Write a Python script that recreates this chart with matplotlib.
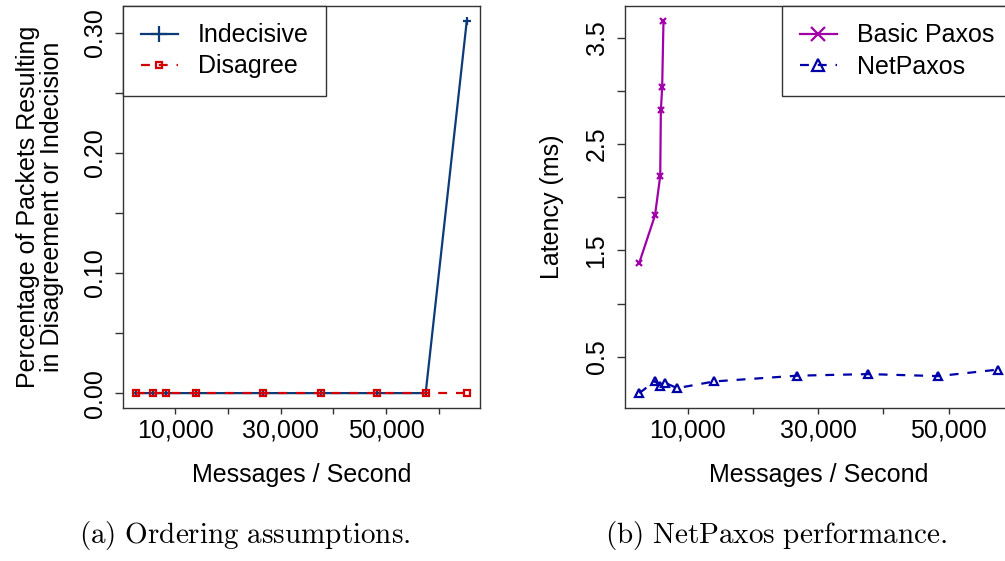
import matplotlib
matplotlib.use("Agg")
import matplotlib.pyplot as plt
from matplotlib.ticker import MultipleLocator, FuncFormatter

plt.rcParams["font.family"] = ["Liberation Sans", "DejaVu Sans"]
plt.rcParams["mathtext.fontset"] = "cm"

# (a) ordering assumptions
rate_a = [2600, 5760, 8300, 14000, 26600, 37600, 48300, 57500, 65300]
indecisive = [0, 0, 0, 0, 0, 0, 0, 0, 0.31]
disagree = [0, 0, 0, 0, 0, 0, 0, 0, 0]

# (b) NetPaxos performance
rate_basic = [2600, 5000, 5800, 5900, 6100, 6300]
lat_basic = [1.385, 1.83, 2.20, 2.82, 3.04, 3.66]
rate_net = [2600, 5000, 5800, 6500, 8400, 14100, 26800, 37700, 48400, 57500]
lat_net = [0.157, 0.270, 0.22, 0.255, 0.204, 0.267, 0.321, 0.336, 0.317, 0.378]

x_labels = {10000: "10,000", 30000: "30,000", 50000: "50,000"}

FS = 18
NAVY = "#0d3b78"
RED = "#d40000"
PURPLE = "#a000a8"
BLUE = "#0000a8"
EDGE = "#333333"


def r_limits(values):
    # R style 4% padding
    lo, hi = min(values), max(values)
    pad = 0.04 * (hi - lo)
    return lo - pad, hi + pad


def style_axes(ax):
    for sp in ax.spines.values():
        sp.set_linewidth(1.0)
        sp.set_color(EDGE)
    ax.tick_params(axis="x", direction="out", length=4.3, width=1.0, color=EDGE,
                   labelsize=FS, pad=3.5)
    ax.tick_params(axis="y", direction="out", length=5.8, width=1.0, color=EDGE,
                   labelsize=FS, pad=6, labelrotation=90)
    for lab in ax.get_yticklabels():
        lab.set_va("center")
    ax.xaxis.set_major_locator(MultipleLocator(10000))
    ax.xaxis.set_major_formatter(FuncFormatter(lambda v, p: x_labels.get(int(round(v)), "")))
    ax.set_xlabel("Messages / Second", fontsize=FS, labelpad=14.5)


def add_legend(ax, loc, anchor, marker_sizes):
    leg = ax.legend(loc=loc, bbox_to_anchor=anchor, borderaxespad=0,
                    fontsize=FS, fancybox=False, framealpha=1, edgecolor=EDGE,
                    handlelength=1.5, handletextpad=0.8, borderpad=0.7,
                    labelspacing=0.28)
    leg.get_frame().set_linewidth(1.0)
    for h, ms in zip(leg.legend_handles, marker_sizes):
        h.set_markersize(ms)
    return leg


fig = plt.figure(figsize=(10.05, 5.61), dpi=100)
W, H = 1005, 561
ax1 = fig.add_axes([123 / W, (H - 408) / H, (480 - 123) / W, (408 - 6) / H])
ax2 = fig.add_axes([625 / W, (H - 408) / H, (1012 - 625) / W, (408 - 6) / H])

# ---- left panel ----
ax1.plot(rate_a, indecisive, color=NAVY, lw=1.6, marker="+", ms=6, mew=1.6,
         label="Indecisive")
ax1.plot(rate_a, disagree, color=RED, lw=1.6, dashes=(4, 4), marker="s", ms=5,
         mfc="none", mew=1.6, label="Disagree")
ax1.set_xlim(*r_limits(rate_a))
ax1.set_ylim(*r_limits(indecisive + disagree))
ax1.yaxis.set_major_locator(MultipleLocator(0.05))
ax1.yaxis.set_major_formatter(FuncFormatter(
    lambda v, p: f"{v:.2f}" if abs(round(v * 100) % 10) == 0 else ""))
style_axes(ax1)
ax1.set_ylabel("Percentage of Packets Resulting\nin Disagreement or Indecision",
               fontsize=FS, linespacing=1.0)
ax1.yaxis.set_label_coords(-0.165, 0.5)
add_legend(ax1, "upper left", (0, 1), [12, 5])

# ---- right panel ----
ax2.plot(rate_basic, lat_basic, color=PURPLE, lw=1.6, marker="x", ms=5, mew=1.6,
         label="Basic Paxos")
ax2.plot(rate_net, lat_net, color=BLUE, lw=1.6, dashes=(4, 4), marker="^", ms=6,
         mfc="none", mew=1.6, label="NetPaxos")
ax2.set_xlim(*r_limits(rate_basic + rate_net))
ax2.set_ylim(*r_limits(lat_basic + lat_net))
ax2.yaxis.set_major_locator(MultipleLocator(0.5))
ax2.yaxis.set_major_formatter(FuncFormatter(
    lambda v, p: f"{v:.1f}" if round(v * 2) % 2 == 1 else ""))
style_axes(ax2)
ax2.set_ylabel("Latency (ms)", fontsize=FS)
ax2.yaxis.set_label_coords(-0.157, 0.5)
add_legend(ax2, "upper right", (1, 1), [9.5, 9])

# captions
fig.text(245 / W, 1 - 535 / H, r"$\mathrm{(a)\ Ordering\ assumptions.}$",
         ha="center", va="center", fontsize=21)
fig.text(776 / W, 1 - 535 / H, r"$\mathrm{(b)\ NetPaxos\ performance.}$",
         ha="center", va="center", fontsize=21)

fig.savefig("out.png", dpi=100)
